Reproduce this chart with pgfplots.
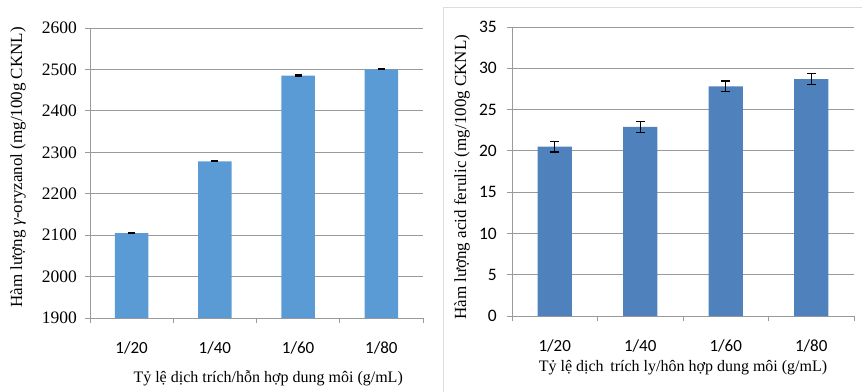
\documentclass[border=0pt]{standalone}
\usepackage{pgfplots}
\pgfplotsset{compat=1.18}
\usepackage{fontspec}
\setmainfont{Liberation Serif}
\newfontfamily\carlito{Carlito}
\definecolor{barL}{HTML}{5B9BD5}
\definecolor{barR}{HTML}{4F81BD}
\definecolor{gridc}{HTML}{9A9A9A}
\definecolor{boxc}{HTML}{DDDDDD}
\pgfplotsset{
  excelbar/.style={
    scale only axis, anchor=south west,
    xmin=-0.5, xmax=3.5,
    axis x line*=bottom, axis y line*=left,
    axis line style={draw=gridc, line width=0.8pt},
    ymajorgrids, grid style={draw=gridc, line width=0.8pt},
    xtick={-0.5,0.5,1.5,2.5,3.5}, xticklabels={},
    extra x ticks={0,1,2,3},
    extra x tick labels={1/20,1/40,1/60,1/80},
    extra x tick style={major tick length=0pt},
    tick align=outside, major tick length=5pt,
    tick style={draw=gridc, line width=0.8pt},
    xticklabel style={font=\carlito\fontsize{17}{17}\selectfont, anchor=center, yshift=-30pt},
    /pgf/number format/assume math mode=true,
    /pgf/number format/1000 sep={},
    clip=false,
  },
}
\begin{document}
\begin{tikzpicture}[x=1pt,y=1pt]
\useasboundingbox (0,0) rectangle (862,391);
\draw[boxc, line width=0.8pt] (443,-5) -- (443,384) -- (870,384);
% left chart
\begin{axis}[excelbar,
  at={(90pt,73pt)}, width=333pt, height=290pt,
  ymin=1900, ymax=2600, ytick={1900,2000,...,2600},
  yticklabel style={font=\fontsize{17.5}{17.5}\selectfont, anchor=east, inner sep=0pt, xshift=-8pt},
  ylabel={Hàm lượng \textit{γ}-oryzanol (mg/100g CKNL)},
  ylabel style={font=\fontsize{17}{17}\selectfont, at={(axis description cs:-0.216,0.52)}, anchor=center},
  xlabel={Tỷ lệ dịch trích/hỗn hợp dung môi (g/mL)},
  xlabel style={font=\fontsize{16}{16}\selectfont, at={(axis description cs:0.535,-0.207)}, anchor=center},
]
\addplot[ybar, bar width=0.4, fill=barL, draw=none,
  error bars/.cd, y dir=both, y explicit,
  error bar style={black, line width=0.8pt},
  error mark options={rotate=90, black, line width=1.2pt, mark size=3.5pt}]
  coordinates {(0,2105) +- (0,1.5) (1,2278) +- (0,1) (2,2485) +- (0,1.5) (3,2500) +- (0,1)};
\end{axis}
% right chart
\begin{axis}[excelbar,
  at={(512pt,75pt)}, width=342pt, height=289pt,
  ymin=0, ymax=35, ytick={0,5,...,35},
  yticklabel style={font=\carlito\fontsize{17.5}{17.5}\selectfont, anchor=east, inner sep=0pt, xshift=-10pt},
  ylabel={Hàm lượng acid ferulic (mg/100g CKNL)},
  ylabel style={font=\fontsize{17}{17}\selectfont, at={(axis description cs:-0.146,0.48)}, anchor=center},
  xlabel={Tỷ lệ dịch\, trích ly/hôn hợp dung môi (g/mL)},
  xlabel style={font=\fontsize{16}{16}\selectfont, at={(axis description cs:0.5,-0.18)}, anchor=center},
]
\addplot[ybar, bar width=0.4, fill=barR, draw=none,
  error bars/.cd, y dir=both, y explicit,
  error bar style={black, line width=1.2pt},
  error mark options={rotate=90, black, line width=1.2pt, mark size=4.5pt}]
  coordinates {(0,20.5) +- (0,0.65) (1,22.9) +- (0,0.65) (2,27.8) +- (0,0.65) (3,28.7) +- (0,0.65)};
\end{axis}
\end{tikzpicture}
\end{document}
